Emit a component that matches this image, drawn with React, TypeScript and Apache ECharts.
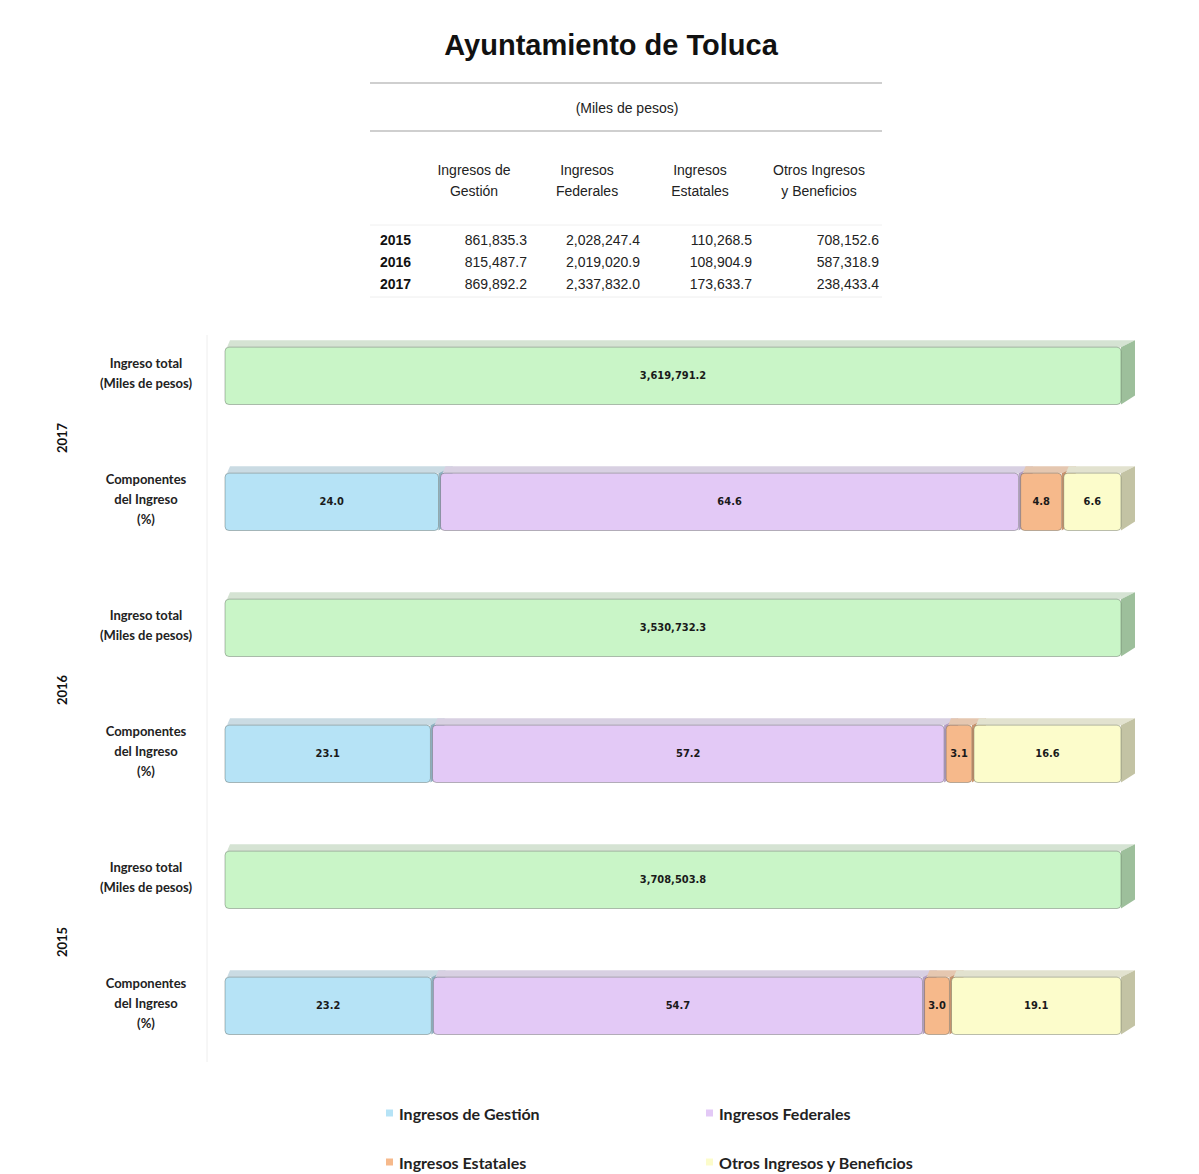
import React, { useEffect, useRef } from "react";
import * as echarts from "echarts";

// ---- Data ----
const years = ["2015", "2016", "2017"];
const gestion = [861835.3, 815487.7, 869892.2];
const federales = [2028247.4, 2019020.9, 2337832.0];
const estatales = [110268.5, 108904.9, 173633.7];
const otros = [708152.6, 587318.9, 238433.4];
const totals = [3708503.8, 3530732.3, 3619791.2];
const pctGestion = [23.2, 23.1, 24.0];
const pctFederales = [54.7, 57.2, 64.6];
const pctEstatales = [3.0, 3.1, 4.8];
const pctOtros = [19.1, 16.6, 6.6];
const componentNames = [
  "Ingresos de Gestión",
  "Ingresos Federales",
  "Ingresos Estatales",
  "Otros Ingresos y Beneficios",
];
const tableHeaders = [
  ["Ingresos de", "Gestión"],
  ["Ingresos", "Federales"],
  ["Ingresos", "Estatales"],
  ["Otros Ingresos", "y Beneficios"],
];
const rowLabels = ["Ingreso total\n(Miles de pesos)", "Componentes\ndel Ingreso\n(%)"];
const displayYears = ["2017", "2016", "2015"];
const titleText = "Ayuntamiento de Toluca";
const unitText = "(Miles de pesos)";

const fmt = (v: number) =>
  v.toLocaleString("en-US", { minimumFractionDigits: 1, maximumFractionDigits: 1 });

const palette = {
  total: { front: "#c9f5c7", top: "#d5e3d3", side: "#9dbf9b" },
  gestion: { front: "#b6e3f6", top: "#cadbe3", side: "#8fb2c1" },
  federales: { front: "#e3c9f6", top: "#d8d0e2", side: "#b39fc3" },
  estatales: { front: "#f6b98b", top: "#e5c7b0", side: "#c89470" },
  otros: { front: "#fcfccb", top: "#e2e2cf", side: "#c3c3a4" },
};

const barLabelFont = '"DejaVu Sans Condensed", "Liberation Sans", sans-serif';

export default function App() {
  const ref = useRef<HTMLDivElement>(null);

  useEffect(() => {
    if (!ref.current) return;
    const chart = echarts.init(ref.current, undefined, { renderer: "svg" });

    const categories: string[] = [];
    displayYears.forEach((y) => {
      categories.push(y + "|total");
      categories.push(y + "|comp");
    });
    const catIndex = (year: string, kind: string) => categories.indexOf(year + "|" + kind);

    const DX = 14;
    const DY = 7;

    const makeRender = (colors: { front: string; top: string; side: string }, labels: string[]) =>
      (params: any, api: any) => {
        const p0 = api.coord([api.value(0), api.value(2)]);
        const p1 = api.coord([api.value(1), api.value(2)]);
        const band = api.size([0, 1])[1];
        const c = p0[1];
        const yTop = c - band * 0.205;
        const yBot = c + band * 0.25;
        const x0 = p0[0];
        const x1 = p1[0] - 2;
        const w = x1 - x0;
        return {
          type: "group",
          children: [
            {
              type: "polygon",
              shape: {
                points: [
                  [x0 + 2, yTop],
                  [x0 + 5, yTop - DY],
                  [x1 + DX, yTop - DY],
                  [x1, yTop],
                ],
              },
              style: { fill: colors.top },
            },
            {
              type: "polygon",
              shape: {
                points: [
                  [x1, yTop],
                  [x1 + DX, yTop - DY],
                  [x1 + DX, yBot - DY - 2],
                  [x1, yBot],
                ],
              },
              style: { fill: colors.side },
            },
            {
              type: "rect",
              shape: { x: x0, y: yTop, width: w, height: yBot - yTop, r: 4 },
              style: { fill: colors.front, stroke: "rgba(60,70,60,0.35)", lineWidth: 1 },
            },
            {
              type: "text",
              style: {
                text: labels[params.dataIndex],
                x: x0 + w / 2,
                y: (yTop + yBot) / 2,
                align: "center",
                verticalAlign: "middle",
                fontFamily: barLabelFont,
                fontWeight: "bold",
                fontSize: 11,
                fill: "#1a1a1a",
              },
            },
          ],
        };
      };

    // total bars (each total is 100% of itself)
    const totalData = years.map((y, k) => [0, (totals[k] / totals[k]) * 100, catIndex(y, "total")]);
    const totalLabels = years.map((_, k) => fmt(totals[k]));

    const pctSets = [pctGestion, pctFederales, pctEstatales, pctOtros];
    const colorSets = [palette.gestion, palette.federales, palette.estatales, palette.otros];
    const compSeries = pctSets.map((pcts, si) => {
      const data = years.map((y, k) => {
        let start = 0;
        for (let j = 0; j < si; j++) start += pctSets[j][k];
        return [start, start + pcts[k], catIndex(y, "comp")];
      });
      const labels = years.map((_, k) => pcts[k].toFixed(1));
      return {
        type: "custom",
        name: componentNames[si],
        itemStyle: { color: colorSets[si].front },
        encode: { x: [0, 1], y: 2 },
        data,
        renderItem: makeRender(colorSets[si], labels),
        z: 2 + si,
      };
    });

    // table graphics
    const colCenters = [474, 587, 700, 819];
    const colRights = [527, 640, 752, 879];
    const rowYs = [240, 262, 284];
    const valueSets = [gestion, federales, estatales, otros];
    const tableFont = "Liberation Sans";
    const graphics: any[] = [
      {
        type: "text",
        x: 611,
        y: 45,
        style: {
          text: titleText,
          align: "center",
          verticalAlign: "middle",
          fontFamily: "Liberation Sans",
          fontWeight: "bold",
          fontSize: 29,
          fill: "#111",
        },
      },
      { type: "line", shape: { x1: 370, y1: 83, x2: 882, y2: 83 }, style: { stroke: "#cfcfcf", lineWidth: 2 } },
      { type: "line", shape: { x1: 370, y1: 131, x2: 882, y2: 131 }, style: { stroke: "#cfcfcf", lineWidth: 2 } },
      { type: "line", shape: { x1: 370, y1: 225, x2: 882, y2: 225 }, style: { stroke: "#f0f0f0", lineWidth: 1 } },
      { type: "line", shape: { x1: 370, y1: 297, x2: 882, y2: 297 }, style: { stroke: "#eeeeee", lineWidth: 1 } },
      {
        type: "text",
        x: 627,
        y: 108,
        style: {
          text: unitText,
          align: "center",
          verticalAlign: "middle",
          fontFamily: tableFont,
          fontSize: 14,
          fill: "#222",
        },
      },
      { type: "line", shape: { x1: 207, y1: 335, x2: 207, y2: 1062 }, style: { stroke: "#eeeeee", lineWidth: 1 } },
    ];
    tableHeaders.forEach((h, i) => {
      h.forEach((line, li) => {
        graphics.push({
          type: "text",
          x: colCenters[i],
          y: 170 + li * 21,
          style: {
            text: line,
            align: "center",
            verticalAlign: "middle",
            fontFamily: tableFont,
            fontSize: 14,
            fill: "#222",
          },
        });
      });
    });
    years.forEach((y, k) => {
      graphics.push({
        type: "text",
        x: 380,
        y: rowYs[k],
        style: {
          text: y,
          align: "left",
          verticalAlign: "middle",
          fontFamily: tableFont,
          fontWeight: "bold",
          fontSize: 14,
          fill: "#111",
        },
      });
      valueSets.forEach((vals, i) => {
        graphics.push({
          type: "text",
          x: colRights[i],
          y: rowYs[k],
          style: {
            text: fmt(vals[k]),
            align: "right",
            verticalAlign: "middle",
            fontFamily: tableFont,
            fontSize: 14,
            fill: "#222",
          },
        });
      });
    });
    const yearYs = [438, 690, 942];
    displayYears.forEach((y, i) => {
      graphics.push({
        type: "text",
        x: 62,
        y: yearYs[i],
        rotation: Math.PI / 2,
        style: {
          text: y,
          align: "center",
          verticalAlign: "middle",
          fontFamily: "Lato",
          fontWeight: "bold",
          fontSize: 13,
          fill: "#111",
        },
      });
    });

    const legendPos = [
      [386, 1105],
      [706, 1105],
      [386, 1154],
      [706, 1154],
    ];
    const legends = componentNames.map((n, i) => ({
      data: [n],
      left: legendPos[i][0],
      top: legendPos[i][1],
      padding: 0,
      icon: "rect",
      itemWidth: 7,
      itemHeight: 7,
      itemGap: 4,
      selectedMode: false,
      textStyle: { fontFamily: "Lato", fontWeight: "bold", fontSize: 16, color: "#222", padding: [0, 0, 0, 1] },
    }));

    chart.setOption({
      animation: false,
      backgroundColor: "#ffffff",
      grid: { left: 225, right: 76, top: 310, bottom: 108 },
      xAxis: { type: "value", min: 0, max: 100, show: false },
      yAxis: {
        type: "category",
        data: categories,
        inverse: true,
        axisLine: { show: false },
        axisTick: { show: false },
        splitLine: { show: false },
        axisLabel: {
          margin: 79,
          align: "center",
          fontFamily: "Lato",
          fontWeight: "bold",
          fontSize: 13,
          lineHeight: 20,
          color: "#222",
          formatter: (v: string) => (v.endsWith("|total") ? rowLabels[0] : rowLabels[1]),
        },
      },
      legend: legends,
      graphic: graphics,
      series: [
        {
          type: "custom",
          name: "Ingreso total",
          itemStyle: { color: palette.total.front },
          encode: { x: [0, 1], y: 2 },
          data: totalData,
          renderItem: makeRender(palette.total, totalLabels),
          z: 1,
        },
        ...compSeries,
      ],
    });

    return () => chart.dispose();
  }, []);

  return (
    <div
      ref={ref}
      style={{ position: "absolute", left: 0, top: 0, width: 1199, height: 1174 }}
    />
  );
}
